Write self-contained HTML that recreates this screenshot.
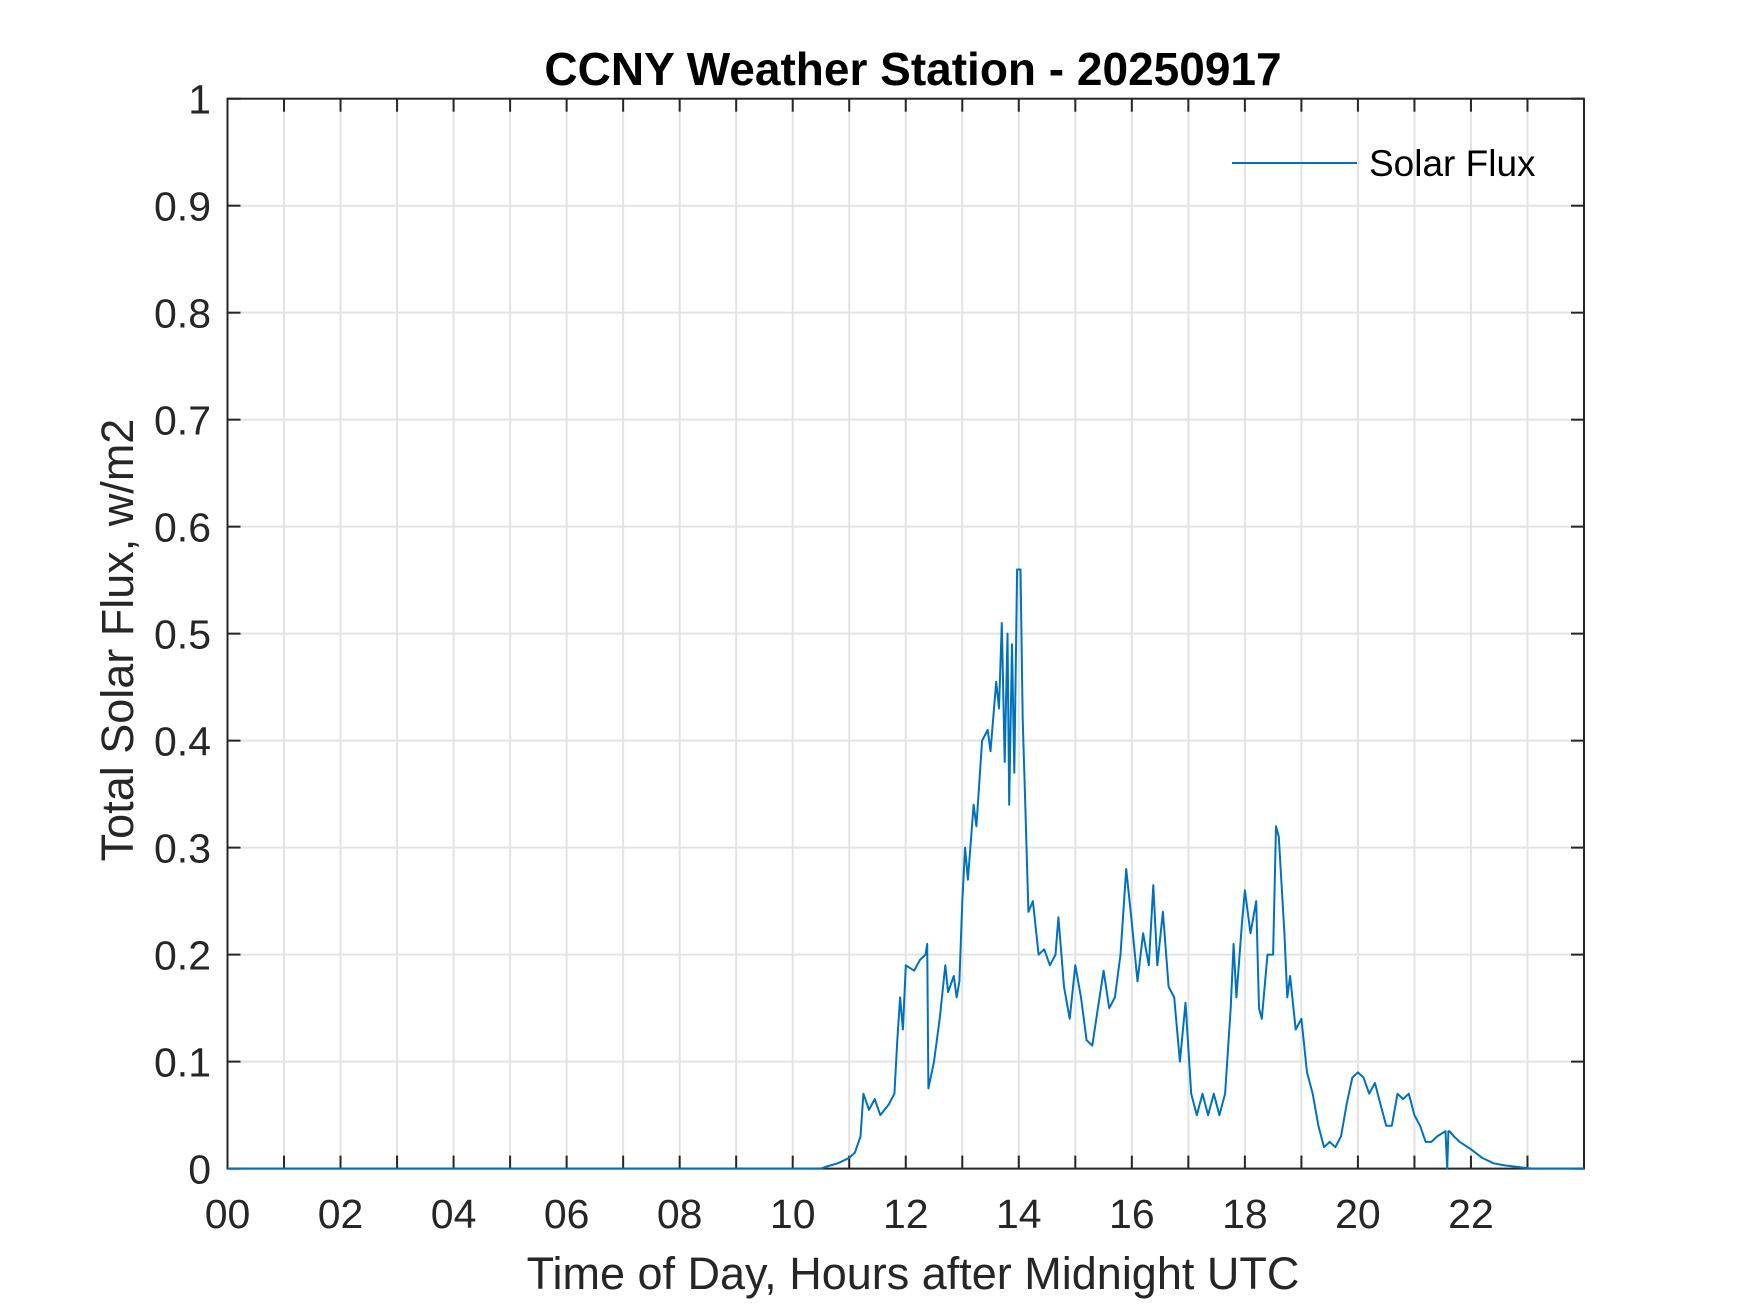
<!DOCTYPE html>
<html><head><meta charset="utf-8"><style>
html,body{margin:0;padding:0;background:#fff;}
svg{display:block;font-family:"Liberation Sans",Arial,sans-serif;}
</style></head><body>
<svg id="chart" width="1750" height="1313" viewBox="0 0 1750 1313" xmlns="http://www.w3.org/2000/svg">
<rect width="1750" height="1313" fill="#fff"/>
<g id="grid"></g>
<g id="axes"></g>
<g id="series"></g>
<text x="913" y="85" text-anchor="middle" font-size="46" font-weight="bold" fill="#000">CCNY Weather Station - 20250917</text>
<text x="913" y="1289" text-anchor="middle" font-size="45" fill="#262626">Time of Day, Hours after Midnight UTC</text>
<text transform="translate(133,640) rotate(-90)" text-anchor="middle" font-size="45" fill="#262626">Total Solar Flux, w/m2</text>
<g>
<line x1="1232" y1="163" x2="1357" y2="163" stroke="#0072BD" stroke-width="2"/>
<text x="1369" y="176" font-size="37" fill="#000">Solar Flux</text>
</g>
</svg>
<script>
const hours = [0,10.5,10.6,10.8,11.0,11.1,11.2,11.25,11.35,11.45,11.55,11.7,11.8,11.85,11.9,11.95,12.0,12.15,12.25,12.35,12.38,12.4,12.5,12.6,12.7,12.75,12.85,12.9,12.95,13.0,13.05,13.1,13.2,13.25,13.35,13.45,13.5,13.6,13.65,13.7,13.75,13.8,13.83,13.88,13.92,13.97,14.03,14.07,14.12,14.17,14.25,14.35,14.45,14.55,14.65,14.7,14.8,14.9,15.0,15.1,15.2,15.3,15.4,15.5,15.6,15.7,15.8,15.9,16.0,16.1,16.2,16.3,16.38,16.45,16.55,16.65,16.75,16.85,16.95,17.05,17.15,17.25,17.35,17.45,17.55,17.65,17.75,17.8,17.85,17.95,18.0,18.1,18.2,18.25,18.3,18.4,18.5,18.55,18.6,18.7,18.75,18.8,18.9,19.0,19.1,19.2,19.3,19.4,19.5,19.6,19.7,19.8,19.9,20.0,20.1,20.2,20.3,20.4,20.5,20.6,20.7,20.8,20.9,21.0,21.1,21.2,21.3,21.4,21.55,21.58,21.6,21.62,21.7,21.8,22.0,22.2,22.4,22.6,22.9,23.1,24];
const flux = [0,0,0.002,0.005,0.01,0.015,0.03,0.07,0.055,0.065,0.05,0.06,0.07,0.12,0.16,0.13,0.19,0.185,0.195,0.2,0.21,0.075,0.1,0.14,0.19,0.165,0.18,0.16,0.175,0.25,0.3,0.27,0.34,0.32,0.4,0.41,0.39,0.455,0.43,0.51,0.38,0.5,0.34,0.49,0.37,0.56,0.56,0.42,0.33,0.24,0.25,0.2,0.205,0.19,0.2,0.235,0.17,0.14,0.19,0.16,0.12,0.115,0.15,0.185,0.15,0.16,0.2,0.28,0.23,0.175,0.22,0.19,0.265,0.19,0.24,0.17,0.16,0.1,0.155,0.07,0.05,0.07,0.05,0.07,0.05,0.07,0.15,0.21,0.16,0.23,0.26,0.22,0.25,0.15,0.14,0.2,0.2,0.32,0.31,0.22,0.16,0.18,0.13,0.14,0.09,0.07,0.04,0.02,0.025,0.02,0.03,0.06,0.085,0.09,0.085,0.07,0.08,0.06,0.04,0.04,0.07,0.065,0.07,0.05,0.04,0.025,0.025,0.03,0.035,0,0.035,0.035,0.03,0.025,0.018,0.01,0.005,0.003,0.001,0,0];
const xTickLabels = ["00","02","04","06","08","10","12","14","16","18","20","22"];
const yTickLabels = ["0","0.1","0.2","0.3","0.4","0.5","0.6","0.7","0.8","0.9","1"];

const L=227.5,R=1584,T=98.7,B=1168.6;
const xs=h=>L+(R-L)*h/24;
const ys=v=>B-(B-T)*v;
const NS="http://www.w3.org/2000/svg";
function mk(tag,attrs,parent){const e=document.createElementNS(NS,tag);for(const k in attrs)e.setAttribute(k,attrs[k]);parent.appendChild(e);return e;}
const grid=document.getElementById('grid'),axes=document.getElementById('axes'),series=document.getElementById('series');
for(let h=1;h<24;h++){
  const g=mk('line',{x1:xs(h),x2:xs(h),y1:T,y2:B,stroke:'#e3e3e3','stroke-width':2},grid);
  
  
  const t1=mk('line',{x1:xs(h),x2:xs(h),y1:B,y2:B-13,stroke:'#262626','stroke-width':2},axes);
  
  
  const t2=mk('line',{x1:xs(h),x2:xs(h),y1:T,y2:T+13,stroke:'#262626','stroke-width':2},axes);
  
  
}
xTickLabels.forEach((lab,i)=>{
  const t=mk('text',{x:xs(i*2),y:1228,'text-anchor':'middle','font-size':41,fill:'#262626'},axes);
  t.textContent=lab;
  
  
});
yTickLabels.forEach((lab,i)=>{
  const v=i/10;
  if(i>0&&i<10){
    const g=mk('line',{x1:L,x2:R,y1:ys(v),y2:ys(v),stroke:'#e3e3e3','stroke-width':2},grid);
    
    
  }
  const a=mk('line',{x1:L,x2:L+13,y1:ys(v),y2:ys(v),stroke:'#262626','stroke-width':2},axes);
  
  
  const b=mk('line',{x1:R,x2:R-13,y1:ys(v),y2:ys(v),stroke:'#262626','stroke-width':2},axes);
  
  
  const t=mk('text',{x:211,y:ys(v)+15,'text-anchor':'end','font-size':41,fill:'#262626'},axes);
  t.textContent=lab;
  
  
});
const box=mk('rect',{x:L,y:T,width:R-L,height:B-T,fill:'none',stroke:'#262626','stroke-width':2},axes);


const pts=hours.map((h,i)=>xs(h).toFixed(1)+','+ys(flux[i]).toFixed(1)).join(' ');
const line=mk('polyline',{points:pts,fill:'none',stroke:'#0072BD','stroke-width':2,'stroke-linejoin':'round'},series);


</script>
</body></html>
